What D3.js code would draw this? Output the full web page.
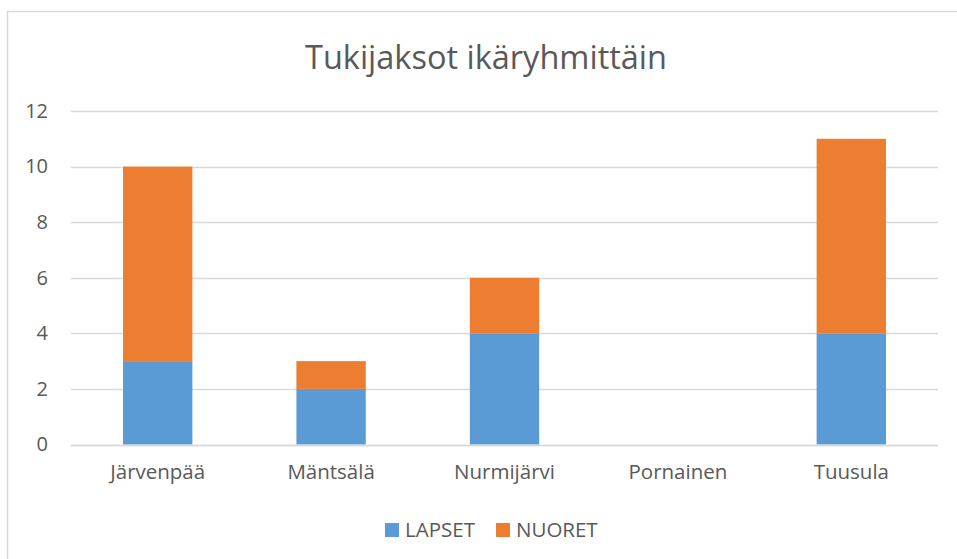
<!DOCTYPE html>
<html>
<head>
<meta charset="utf-8">
<script src="https://cdn.jsdelivr.net/npm/d3@7"></script>
<style>
  body { margin: 0; background: #fff; }
  text { font-family: "Open Sans", "Noto Sans", sans-serif; fill: #595959; }
</style>
</head>
<body>
<div id="chart"></div>
<script>
// Chart data
var categories = ["Järvenpää", "Mäntsälä", "Nurmijärvi", "Pornainen", "Tuusula"];
var lapset = [3, 2, 4, 0, 4];
var nuoret = [7, 1, 2, 0, 7];
var seriesNames = ["LAPSET", "NUORET"];
var yTicks = [0, 2, 4, 6, 8, 10, 12];

var colors = ["#5B9BD5", "#ED7D31"];

var svgWidth = 957;
var svgHeight = 559;

// Plot area
var plot = { left: 71, right: 938, top: 111, bottom: 444.5 };

var svg = d3.select("#chart")
  .append("svg")
  .attr("width", svgWidth)
  .attr("height", svgHeight);

// Chart border (runs past the right and bottom edges)
svg.append("rect")
  .attr("x", 7.5)
  .attr("y", 11.5)
  .attr("width", 980)
  .attr("height", 600)
  .attr("fill", "#fff")
  .attr("stroke", "#d9d9d9")
  .attr("stroke-width", 1.5);

// Build table for stacking
var table = categories.map(function(c, i) {
  return { cat: c, LAPSET: lapset[i], NUORET: nuoret[i] };
});
var stacked = d3.stack().keys(seriesNames)(table);

var xScale = d3.scaleBand()
  .domain(categories)
  .range([plot.left, plot.right])
  .paddingInner(0.6)
  .paddingOuter(0.3);

var yScale = d3.scaleLinear()
  .domain([0, 12])
  .range([plot.bottom, plot.top]);

// Gridlines
svg.append("g")
  .selectAll("line")
  .data(yTicks)
  .enter()
  .append("line")
  .attr("x1", plot.left)
  .attr("x2", plot.right)
  .attr("y1", d => Math.round(yScale(d)) + 0.5)
  .attr("y2", d => Math.round(yScale(d)) + 0.5)
  .attr("stroke", "#d9d9d9")
  .attr("stroke-width", 1.5);

// Y axis labels
var leftAxis = d3.axisLeft(yScale).tickValues(yTicks).tickSize(0).tickPadding(0);
var yAxisG = svg.append("g")
  .attr("transform", "translate(48, 0)")
  .call(leftAxis);
yAxisG.select(".domain").remove();
yAxisG.selectAll("text")
  .attr("font-size", 20)
  .attr("font-family", "'Open Sans', sans-serif")
  .attr("fill", "#595959");

// Bars
svg.append("g")
  .selectAll("g")
  .data(stacked)
  .enter()
  .append("g")
  .attr("fill", (d, i) => colors[i])
  .selectAll("rect")
  .data(d => d)
  .enter()
  .append("rect")
  .attr("x", d => xScale(d.data.cat))
  .attr("width", xScale.bandwidth())
  .attr("y", d => yScale(d[1]))
  .attr("height", d => yScale(d[0]) - yScale(d[1]));

// Redraw baseline over bars
svg.append("line")
  .attr("x1", plot.left)
  .attr("x2", plot.right)
  .attr("y1", Math.round(yScale(0)) + 0.5)
  .attr("y2", Math.round(yScale(0)) + 0.5)
  .attr("stroke", "#d9d9d9")
  .attr("stroke-width", 1.5);

// X axis labels
var bottomAxis = d3.axisBottom(xScale).tickSize(0).tickPadding(0);
var xAxisG = svg.append("g")
  .attr("transform", "translate(0, 464)")
  .call(bottomAxis);
xAxisG.select(".domain").remove();
xAxisG.selectAll("text")
  .attr("font-size", 20.5)
  .attr("font-family", "'Open Sans', sans-serif")
  .attr("fill", "#595959");

// Title
svg.append("text")
  .attr("x", 486)
  .attr("y", 69)
  .attr("text-anchor", "middle")
  .attr("font-size", 32.5)
  .text("Tukijaksot ikäryhmittäin");

// Legend
var legendX = [385, 496];
var legend = svg.append("g");
seriesNames.forEach(function(name, i) {
  legend.append("rect")
    .attr("x", legendX[i])
    .attr("y", 523)
    .attr("width", 14)
    .attr("height", 14)
    .attr("fill", colors[i]);
  legend.append("text")
    .attr("x", legendX[i] + 20)
    .attr("y", 537)
    .attr("font-size", 20.5)
    .text(name);
});
</script>
</body>
</html>
